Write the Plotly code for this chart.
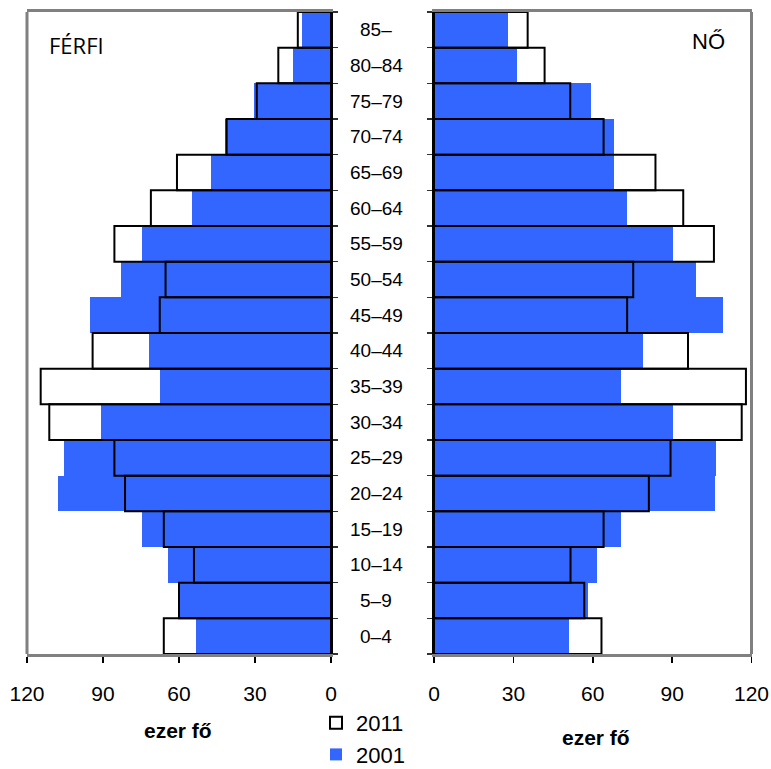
import plotly.graph_objects as go

categories = ["0–4", "5–9", "10–14", "15–19", "20–24", "25–29", "30–34", "35–39",
              "40–44", "45–49", "50–54", "55–59", "60–64", "65–69", "70–74",
              "75–79", "80–84", "85–"]

male_2001 = [53.3, 59.5, 64.2, 74.5, 107.8, 105.4, 90.8, 67.5, 71.8, 95.1,
             82.9, 74.5, 54.9, 47.4, 41.8, 30.3, 15.0, 11.6]
male_2011 = [66.0, 60.0, 54.1, 66.0, 81.3, 85.5, 111.2, 114.6, 94.1, 67.6,
             65.3, 85.5, 71.1, 60.8, 41.2, 29.3, 20.8, 13.1]
female_2001 = [51.1, 58.2, 61.6, 70.7, 106.1, 106.7, 90.4, 70.8, 79.0, 109.3,
               99.2, 90.4, 73.0, 68.2, 68.2, 59.5, 31.4, 27.9]
female_2011 = [63.3, 56.8, 51.6, 64.1, 81.2, 89.4, 116.3, 117.9, 96.0, 73.0,
               75.3, 105.8, 94.2, 83.7, 64.1, 51.5, 41.8, 35.4]

x_ticks = [0, 30, 60, 90, 120]
year_labels = ["2001", "2011"]

BLUE = "#3366FF"
GRAY = "#808080"
W, H = 771, 769
TICKFONT = dict(family="Liberation Sans Narrow, Liberation Sans, Arial", size=21, color="black")
CATFONT = dict(family="Liberation Sans, Arial", size=19, color="black")

fig = go.Figure()

# Male panel
fig.add_trace(go.Bar(y=categories, x=male_2001, orientation="h", name=year_labels[0],
                     marker=dict(color=BLUE, line=dict(width=0)),
                     xaxis="x", yaxis="y", legendrank=2, showlegend=True))
fig.add_trace(go.Bar(y=categories, x=male_2011, orientation="h", name=year_labels[1],
                     marker=dict(color="rgba(0,0,0,0)", line=dict(color="black", width=2)),
                     xaxis="x", yaxis="y", legendrank=1, showlegend=True))
# Female panel
fig.add_trace(go.Bar(y=categories, x=female_2001, orientation="h", name=year_labels[0],
                     marker=dict(color=BLUE, line=dict(width=0)),
                     xaxis="x2", yaxis="y2", showlegend=False))
fig.add_trace(go.Bar(y=categories, x=female_2011, orientation="h", name=year_labels[1],
                     marker=dict(color="rgba(0,0,0,0)", line=dict(color="black", width=2)),
                     xaxis="x2", yaxis="y2", showlegend=False))

ydom = [(H - 654) / H, (H - 12) / H]
xdom1 = [27 / W, 331 / W]
xdom2 = [434 / W, 751.5 / W]

common_x = dict(tickvals=x_ticks, ticktext=[str(v) for v in x_ticks],
                ticks="outside", ticklen=6, tickwidth=1.5, tickcolor="black",
                showline=True, linecolor=GRAY, linewidth=3, mirror=True,
                showgrid=False, zeroline=False, tickfont=TICKFONT,
                ticklabelstandoff=13, fixedrange=True, automargin=False)
common_y = dict(type="category", categoryorder="array", categoryarray=categories,
                domain=ydom, showline=True, linecolor="black", linewidth=2,
                ticks="outside", ticklen=5, tickwidth=1.5, tickcolor="#333333",
                tickson="boundaries", showticklabels=False, showgrid=False,
                zeroline=False, range=[-0.5, 17.5], automargin=False, fixedrange=True)

fig.update_layout(
    width=W, height=H,
    margin=dict(l=0, r=0, t=0, b=0, autoexpand=False),
    paper_bgcolor="white", plot_bgcolor="white",
    barmode="overlay", bargap=0,
    hovermode=False,
    xaxis=dict(domain=xdom1, range=[120, 0], anchor="y", **common_x),
    xaxis2=dict(domain=xdom2, range=[0, 120], anchor="y2", **common_x),
    yaxis=dict(anchor="x", side="right", **common_y),
    yaxis2=dict(anchor="x2", side="left", matches="y", **common_y),
    legend=dict(x=316 / W, y=-7 / H, xanchor="left", yanchor="bottom",
                traceorder="normal", tracegroupgap=0,
                font=dict(family="Liberation Sans Narrow, Liberation Sans, Arial", size=22, color="black"),
                bgcolor="rgba(0,0,0,0)", itemwidth=30),
    showlegend=True,
)

# outer gray borders not covered by axis lines
fig.add_shape(type="line", xref="x domain", yref="y domain", x0=0, x1=0, y0=0, y1=1,
              line=dict(color=GRAY, width=3))
fig.add_shape(type="line", xref="x2 domain", yref="y2 domain", x0=1, x1=1, y0=0, y1=1,
              line=dict(color=GRAY, width=3))

# age group labels in the middle
for c in categories:
    fig.add_annotation(x=376 / W, xref="paper", y=c, yref="y", text=c, showarrow=False,
                       xanchor="center", yanchor="middle", font=CATFONT)

# axis titles
fig.add_annotation(x=178 / W, y=1 - 730 / H, xref="paper", yref="paper", text="<b>ezer fő</b>",
                   showarrow=False, xanchor="center", yanchor="middle",
                   font=dict(family="Liberation Sans, Arial", size=21, color="black"))
fig.add_annotation(x=596 / W, y=1 - 737 / H, xref="paper", yref="paper", text="<b>ezer fő</b>",
                   showarrow=False, xanchor="center", yanchor="middle",
                   font=dict(family="Liberation Sans, Arial", size=21, color="black"))

# panel labels
fig.add_annotation(x=76 / W, y=1 - 45 / H, xref="paper", yref="paper", text="FÉRFI",
                   showarrow=False, xanchor="center", yanchor="middle",
                   font=dict(family="Open Sans", size=22, color="black"))
fig.add_annotation(x=708 / W, y=1 - 42 / H, xref="paper", yref="paper", text="NŐ",
                   showarrow=False, xanchor="center", yanchor="middle",
                   font=dict(family="Liberation Sans Narrow, Liberation Sans, Arial", size=22, color="black"))

fig.write_html("out.html", config={"displayModeBar": False, "staticPlot": True},
               post_script="document.body.style.margin='0px';")
